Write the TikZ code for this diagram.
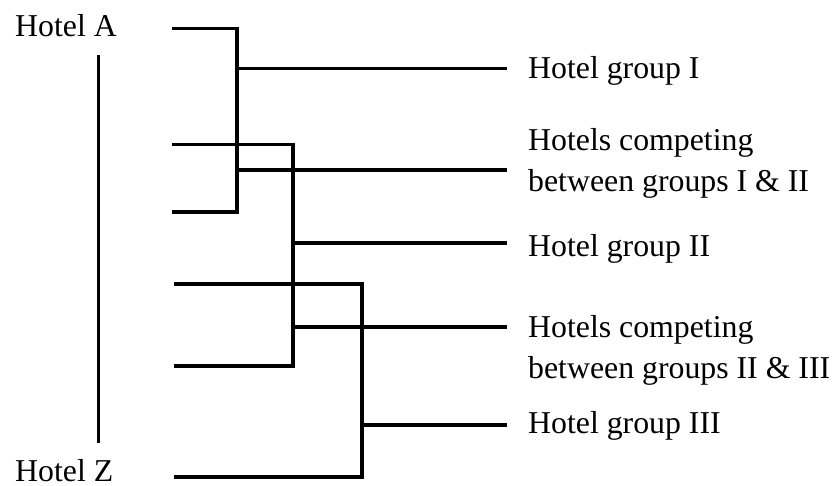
\documentclass[tikz,border=0pt]{standalone}
\usepackage{fontspec}
\setmainfont{Liberation Serif}
\begin{document}
\begin{tikzpicture}[x=1pt,y=-1pt,
  lbl/.style={anchor=base west,inner sep=0pt,font=\fontsize{31.8}{41}\selectfont,align=left},
  bar/.style={line width=3.5pt,line join=miter,black}]
\useasboundingbox (0,0) rectangle (835,485);
% labels
\node[lbl] (ha) at (15,36) {Hotel A};
\node[lbl] (hz) at (15,481) {Hotel Z};
\node[lbl] (g1) at (528,78) {Hotel group I};
\node[lbl] (c12) at (528,191) {Hotels competing\\between groups I \& II};
\node[lbl] (g2) at (528,256) {Hotel group II};
\node[lbl] (c23) at (528,378) {Hotels competing\\between groups II \& III};
\node[lbl] (g3) at (528,433) {Hotel group III};
% left range line
\coordinate (rt) at (98.5,55);
\coordinate (rb) at (98.5,443);
\draw[bar] (rt) -- (rb);
% bracket I
\coordinate (a1) at (172,28.5);
\coordinate (a2) at (172,212);
\coordinate (ax) at (237,0);
\draw[bar] (a1) -- (a1 -| ax) -- (a2 -| ax) -- (a2);
% bracket II
\coordinate (b1) at (172,144.5);
\coordinate (b2) at (174,366);
\coordinate (bx) at (293,0);
\draw[bar] (b1) -- (b1 -| bx) -- (b2 -| bx) -- (b2);
% bracket III
\coordinate (d1) at (174,284);
\coordinate (d2) at (174,477);
\coordinate (dx) at (362,0);
\draw[bar] (d1) -- (d1 -| dx) -- (d2 -| dx) -- (d2);
% outgoing lines
\coordinate (ex) at (507,0);
\coordinate (y1) at (0,68.5);
\coordinate (y12) at (0,170);
\coordinate (y2) at (0,243);
\coordinate (y23) at (0,327);
\coordinate (y3) at (0,425);
\draw[bar] (ax |- y1) -- (ex |- y1);
\draw[bar] (ax |- y12) -- (ex |- y12);
\draw[bar] (bx |- y2) -- (ex |- y2);
\draw[bar] (bx |- y23) -- (ex |- y23);
\draw[bar] (dx |- y3) -- (ex |- y3);
\end{tikzpicture}
\end{document}
